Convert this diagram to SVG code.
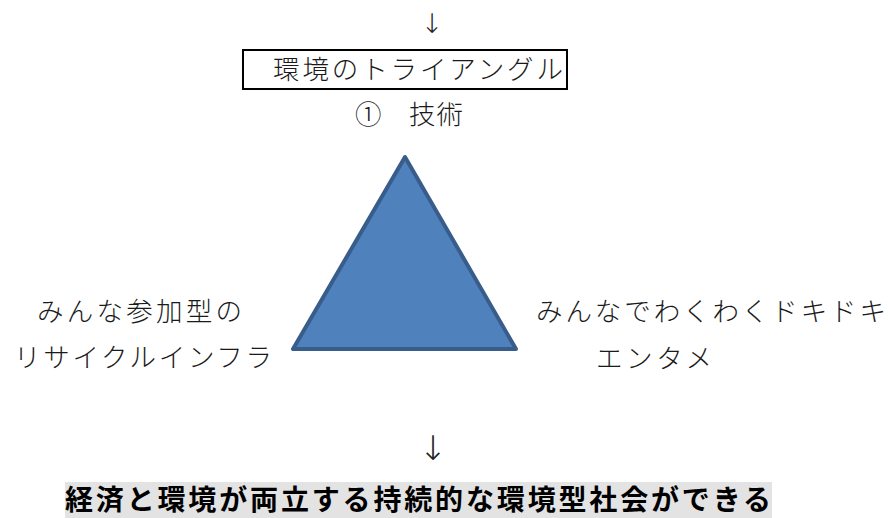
<svg xmlns="http://www.w3.org/2000/svg" width="888" height="518" viewBox="0 0 888 518">
<style>
.t{font-family:"Noto Sans CJK JP","Noto Sans CJK SC",sans-serif;font-weight:300;fill:#1a1a1a;font-size:26.5px}
.b{font-family:"Noto Sans CJK JP","Noto Sans CJK SC",sans-serif;font-weight:700;fill:#000;font-size:28px}
.arr{font-family:"DejaVu Sans","Noto Sans CJK JP",sans-serif;font-weight:300;fill:#222;text-anchor:middle}
</style>
<rect width="888" height="518" fill="#fff"/>
<g id="connectors">
<text class="arr" x="432" y="33" font-size="27">↓</text>
<text class="arr" x="433" y="460" font-size="34">↓</text>
</g>
<g id="title">
<rect x="243" y="50" width="324" height="39" fill="none" stroke="#000" stroke-width="2"/>
<text class="t" x="273" y="79" textLength="290" lengthAdjust="spacing">環境のトライアングル</text>
</g>
<g id="tech">
<text class="t" y="124"><tspan x="355">①</tspan> <tspan x="409" textLength="54" lengthAdjust="spacing">技術</tspan></text>
</g>
<g id="triangle">
<polygon points="405,157 293,349 516,349" fill="#4f81bd" stroke="#385d8a" stroke-width="4" stroke-linejoin="round"/>
</g>
<g id="left">
<text class="t" x="37" y="321" textLength="205" lengthAdjust="spacing">みんな参加型の</text>
<text class="t" x="14" y="367" textLength="258" lengthAdjust="spacing">リサイクルインフラ</text>
</g>
<g id="right">
<text class="t" x="536" y="321" textLength="350" lengthAdjust="spacing">みんなでわくわくドキドキ</text>
<text class="t" x="596" y="368" textLength="116" lengthAdjust="spacing">エンタメ</text>
</g>
<g id="result">
<rect x="65" y="482" width="707" height="36" fill="#e3e3e3"/>
<text class="b" x="65" y="510" textLength="706" lengthAdjust="spacing">経済と環境が両立する持続的な環境型社会ができる</text>
</g>
</svg>
